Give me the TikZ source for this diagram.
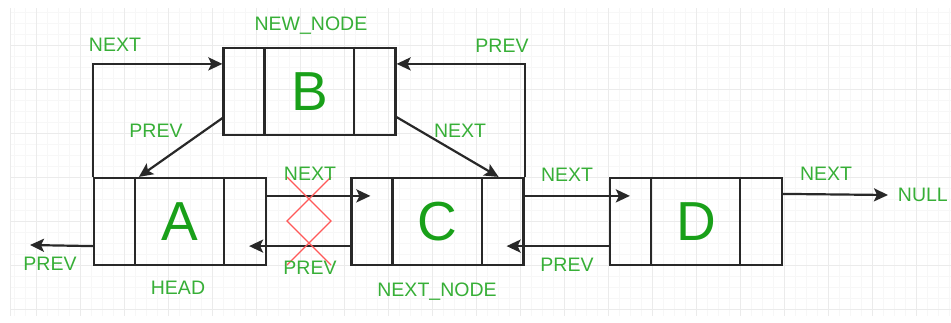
\documentclass[tikz,border=0pt]{standalone}
\usepackage{fontspec}
\setmainfont{Liberation Sans}
\usetikzlibrary{arrows.meta}
\definecolor{lblgreen}{RGB}{55,175,55}
\definecolor{biggreen}{RGB}{25,160,25}
\definecolor{linegray}{RGB}{40,40,40}
\begin{document}
\begin{tikzpicture}[x=1pt,y=-1pt,
  listnode/.style={draw=linegray, line width=2.2pt, minimum width=172pt, minimum height=87pt, inner sep=0pt,
    text=biggreen, font=\fontsize{55}{55}\selectfont},
  lbl/.style={text=lblgreen, font=\fontsize{19.5}{19.5}\selectfont, inner sep=0pt},
  arr/.style={draw=linegray, line width=2.2pt, -{Stealth[length=14pt,width=13pt,inset=3pt]}},
  divider/.style={draw=linegray, line width=2.2pt},
  cross/.style={draw=red!65, line width=1.4pt}]
\useasboundingbox (0,0) rectangle (951,322);
\fill[white] (0,0) rectangle (951,322);
% grid
\foreach \x in {14,25,...,951} \draw[gray!6, line width=0.6pt] (\x,8) -- (\x,316);
\foreach \y in {12,23,...,316} \draw[gray!6, line width=0.6pt] (10,\y) -- (951,\y);
\foreach \x in {36,80,...,951} \draw[gray!16, line width=0.8pt] (\x,8) -- (\x,316);
\foreach \y in {45,89,...,316} \draw[gray!16, line width=0.8pt] (10,\y) -- (951,\y);
\draw[gray!16, line width=0.8pt] (10,8) -- (10,316);

% list nodes
\node[listnode] (A) at (180,221.5) {A};
\node[listnode] (B) at (309.5,91.5) {B};
\node[listnode] (C) at (437.5,221.5) {C};
\node[listnode] (D) at (696,221.5) {D};
\foreach \n in {A,B,C,D} {
  \draw[divider] ([xshift=42pt]\n.north west) -- ([xshift=42pt]\n.south west);
  \draw[divider] ([xshift=-43pt]\n.north east) -- ([xshift=-43pt]\n.south east);
}

% free ends
\coordinate (nullend) at (888,195);
\coordinate (prevend) at (30,245);

% connectors
\draw[arr] (A.north west) |- ([yshift=-17pt]B.north west);
\draw[arr] ([yshift=18pt]B.south west) -- ([xshift=46pt]A.north west);
\draw[arr] ([yshift=19pt]B.south east) -- ([xshift=-26pt]C.north east);
\draw[arr] (C.north east) |- ([yshift=-17pt]B.north east);
\draw[arr] ([yshift=-19pt]A.north east) -- ([xshift=20pt,yshift=-19pt]C.north west);
\draw[arr] ([yshift=20pt]C.south west) -- ([xshift=-18pt,yshift=20pt]A.south east);
\draw[arr] ([yshift=-19pt]C.north east) -- ([xshift=21pt,yshift=-19pt]D.north west);
\draw[arr] ([yshift=20pt]D.south west) -- ([xshift=-18pt,yshift=20pt]C.south east);
\draw[arr] ([yshift=-17pt]D.north east) -- (nullend);
\draw[arr] ([yshift=20pt]A.south west) -- (prevend);

% red crosses
\draw[cross] (287,177) -- (331,221) -- (287,265);
\draw[cross] (331,177) -- (287,221) -- (331,265);

% labels
\node[lbl] (l1) at (115,45) {NEXT};
\node[lbl] (l2) at (156,131) {PREV};
\node[lbl] (l3) at (311,26) {NEW\_NODE};
\node[lbl] (l4) at (502,46) {PREV};
\node[lbl] (l5) at (460,131) {NEXT};
\node[lbl] (l6) at (310,174) {NEXT};
\node[lbl] (l7) at (310,268) {PREV};
\node[lbl] (l8) at (567,175) {NEXT};
\node[lbl] (l9) at (567,265) {PREV};
\node[lbl] (l10) at (826,174) {NEXT};
\node[lbl, anchor=east] (l11) at (948,195) {NULL};
\node[lbl] (l12) at (50,264) {PREV};
\node[lbl] (l13) at (178,288) {HEAD};
\node[lbl] (l14) at (437,292) {NEXT\_NODE};
\end{tikzpicture}
\end{document}
